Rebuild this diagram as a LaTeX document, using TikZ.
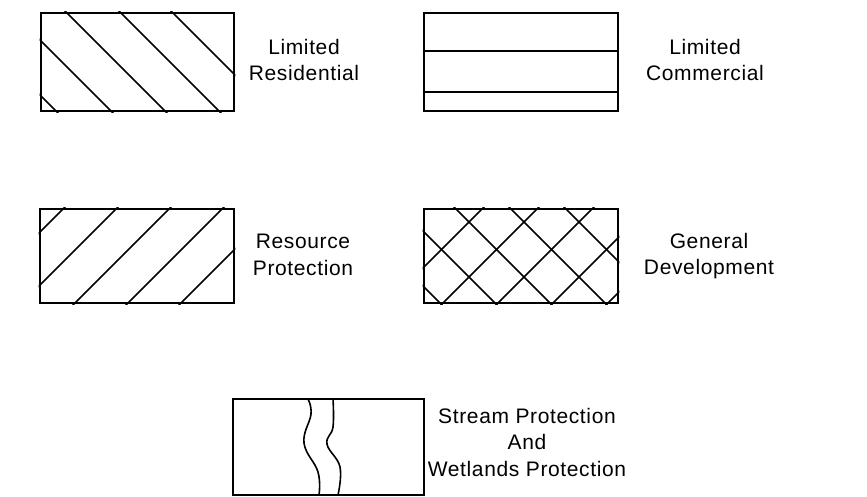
\documentclass[tikz,border=0pt]{standalone}
\usepackage{fontspec}
\newfontfamily\legfont[LetterSpace=3]{Liberation Sans}
\usepackage{tikz}

\tikzset{
  legbox/.style={draw, line width=2.6pt, inner sep=0pt},
  hatch/.style={line width=1.6pt},
  legtext/.style={align=center, font=\legfont\fontsize{21}{26.5}\selectfont}
}

\begin{document}
\begin{tikzpicture}[x=1pt,y=-1pt]
        \useasboundingbox (0,0) rectangle (867,496);
        % boxes
        \node[legbox, minimum width=193pt, minimum height=98pt] (lres) at (137.5,62) {};
        \node[legbox, minimum width=194pt, minimum height=98pt] (lcom) at (521,62) {};
        \node[legbox, minimum width=194pt, minimum height=94pt] (rprot) at (137,256) {};
        \node[legbox, minimum width=194pt, minimum height=94pt] (gdev) at (521,256) {};
        \node[legbox, minimum width=191pt, minimum height=96pt] (sprot) at (328.5,447) {};
        % limited residential
        \begin{scope}
          \clip (lres.south west) rectangle (lres.north east);
          \foreach \c in {-55,0,54,108,160}
            \draw[hatch] (\c,0) -- ++(140,140);
        \end{scope}
        % limited commercial
        \draw[hatch] (lcom.west |- 0,51) -- (lcom.east |- 0,51);
        \draw[hatch] (lcom.west |- 0,92) -- (lcom.east |- 0,92);
        % resource protection
        \begin{scope}
          \clip (rprot.south west) rectangle (rprot.north east);
          \foreach \c in {272,325,378,431,484}
            \draw[hatch] (\c,0) -- ++(-330,330);
        \end{scope}
        % general development
        \begin{scope}
          \clip (gdev.south west) rectangle (gdev.north east);
          \foreach \c in {137,192,247,302,357}
            \draw[hatch] (\c,0) -- ++(330,330);
          \foreach \c in {691,746,801,856,911}
            \draw[hatch] (\c,0) -- ++(-330,330);
        \end{scope}
        % stream
        \draw[hatch] plot[smooth, tension=0.7] coordinates {(308,399) (311,414) (304,443) (318,472) (319,495)};
        \draw[hatch] plot[smooth, tension=0.7] coordinates {(333,399) (333,427) (327,444) (340,467) (338,495)};
        % labels
        \node[legtext] (tres) at (304,60) {Limited\\Residential};
        \node[legtext] (tcom) at (705,60) {Limited\\Commercial};
        \node[legtext] (trp) at (303,255) {Resource\\Protection};
        \node[legtext] (tgd) at (709,256) {General\\Development};
        \node[legtext] (tsp) at (527,442) {Stream Protection\\And\\Wetlands Protection};
      \end{tikzpicture}
\end{document}
